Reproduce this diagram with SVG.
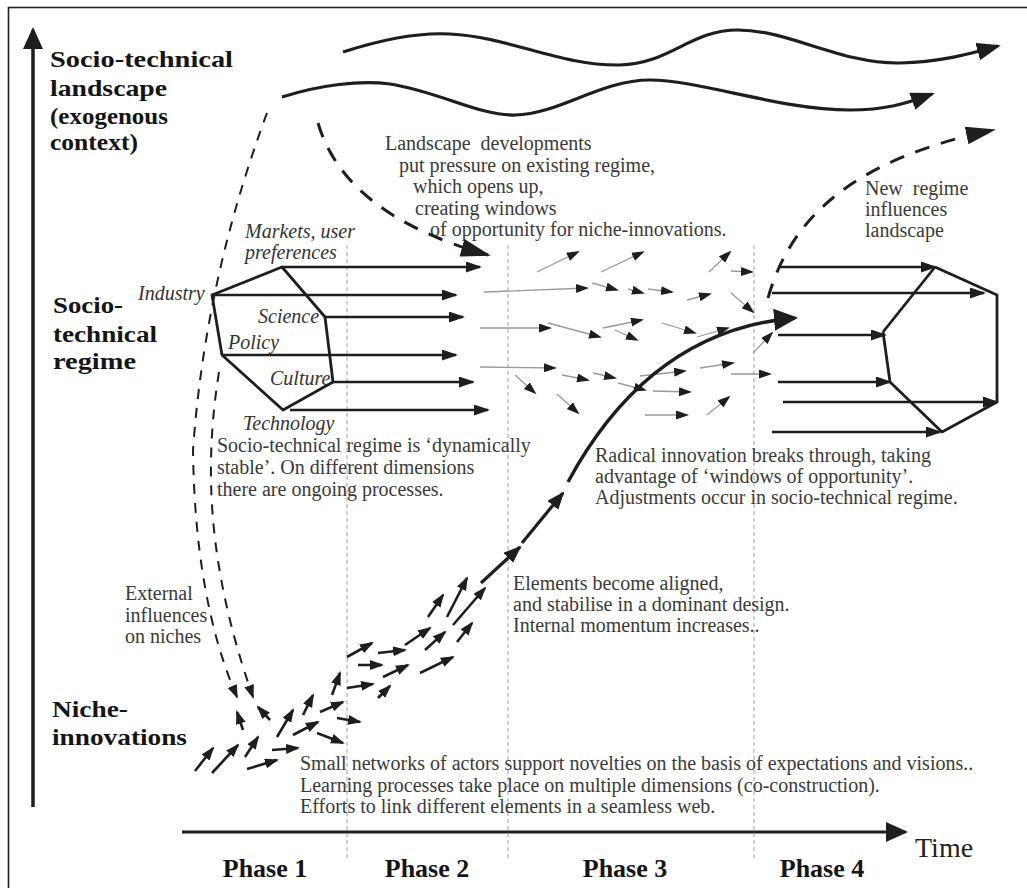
<svg xmlns="http://www.w3.org/2000/svg" width="1027" height="888" viewBox="0 0 1027 888">
<defs>
<style>
.h{font-family:"Liberation Serif","Times New Roman",serif;font-weight:bold;font-size:24px;fill:#151515}
.hs{font-size:23px}
.ph{font-family:"Liberation Serif","Times New Roman",serif;font-weight:bold;font-size:26px;fill:#151515;text-anchor:middle}
.t{font-family:"Liberation Serif","Times New Roman",serif;font-size:20px;fill:#3a3a3a}
.it{font-family:"Liberation Serif","Times New Roman",serif;font-style:italic;font-size:20px;fill:#333}
.time{font-family:"Liberation Serif","Times New Roman",serif;font-size:28px;fill:#222}
.div{stroke:#a0a0a0;stroke-width:1;stroke-dasharray:4 3;fill:none}
.grey{stroke:#9a9a9a;stroke-width:1.3;fill:none;marker-end:url(#mS)}
.nich{stroke:#1e1e1e;stroke-width:2.6;fill:none;marker-end:url(#mN)}
.reg{stroke:#1e1e1e;stroke-width:2.6;fill:none;marker-end:url(#mR)}
.poly{stroke:#1e1e1e;stroke-width:2.8;fill:none;stroke-linejoin:round}
.wave{stroke:#1e1e1e;stroke-width:3.2;fill:none;marker-end:url(#mW)}
.dashA{stroke:#1e1e1e;stroke-width:2;fill:none;stroke-dasharray:10 9;marker-end:url(#mN)}
.dashB{stroke:#1e1e1e;stroke-width:3;fill:none;stroke-dasharray:15 12;marker-end:url(#mD)}
</style>
<marker id="mS" markerUnits="userSpaceOnUse" markerWidth="13" markerHeight="10" refX="11" refY="4.5" orient="auto"><path d="M0,0 L13,4.5 L0,9 z" fill="#1e1e1e"/></marker>
<marker id="mN" markerUnits="userSpaceOnUse" markerWidth="14" markerHeight="11" refX="12" refY="5" orient="auto"><path d="M0,0 L14,5 L0,10 z" fill="#1e1e1e"/></marker>
<marker id="mR" markerUnits="userSpaceOnUse" markerWidth="16" markerHeight="12" refX="14" refY="5.5" orient="auto"><path d="M0,0 L16,5.5 L0,11 z" fill="#1e1e1e"/></marker>
<marker id="mW" markerUnits="userSpaceOnUse" markerWidth="24" markerHeight="19" refX="21" refY="9" orient="auto"><path d="M0,0 L24,9 L0,18 z" fill="#1e1e1e"/></marker>
<marker id="mD" markerUnits="userSpaceOnUse" markerWidth="30" markerHeight="19" refX="27" refY="9" orient="auto"><path d="M0,0 L30,9 L0,18 z" fill="#1e1e1e"/></marker>
<marker id="mT" markerUnits="userSpaceOnUse" markerWidth="24" markerHeight="23" refX="21" refY="11" orient="auto"><path d="M0,0 L24,11 L0,22 z" fill="#1e1e1e"/></marker>
<marker id="mG" markerUnits="userSpaceOnUse" markerWidth="18" markerHeight="15" refX="16" refY="7" orient="auto"><path d="M0,0 L18,7 L0,14 z" fill="#1e1e1e"/></marker>
<marker id="mA" markerUnits="userSpaceOnUse" markerWidth="22" markerHeight="21" refX="19" refY="10" orient="auto"><path d="M0,0 L22,10 L0,20 z" fill="#1e1e1e"/></marker>
</defs>
<rect width="1027" height="888" fill="#fff"/>
<g id="frame"><rect x="8.5" y="7.5" width="1040" height="900" fill="none" stroke="#222" stroke-width="1.6"/></g>

<g id="axes">
<path d="M33,807 L33,30" stroke="#1e1e1e" stroke-width="3.5" fill="none" marker-end="url(#mA)"/>
<path d="M182,832 L905,832" stroke="#1e1e1e" stroke-width="3" fill="none" marker-end="url(#mA)"/>
<text class="time" x="915" y="857">Time</text>
</g>

<g id="phases">
<path class="div" d="M347,245 V858 M508,245 V858 M754,245 V858"/>
<text class="ph" x="265" y="877">Phase 1</text>
<text class="ph" x="427" y="877">Phase 2</text>
<text class="ph" x="625" y="877">Phase 3</text>
<text class="ph" x="822" y="877">Phase 4</text>
</g>

<g id="landscape">
<text class="h" x="50" y="67" textLength="183" lengthAdjust="spacingAndGlyphs">Socio-technical</text>
<text class="h" x="50" y="96" textLength="117" lengthAdjust="spacingAndGlyphs">landscape</text>
<text class="h hs" x="50" y="124" textLength="118" lengthAdjust="spacingAndGlyphs">(exogenous</text>
<text class="h hs" x="50" y="150" textLength="88" lengthAdjust="spacingAndGlyphs">context)</text>
</g>

<g id="regime">
<text class="h" x="53" y="313" textLength="70" lengthAdjust="spacingAndGlyphs">Socio-</text>
<text class="h" x="53" y="342" textLength="104" lengthAdjust="spacingAndGlyphs">technical</text>
<text class="h" x="53" y="369" textLength="83" lengthAdjust="spacingAndGlyphs">regime</text>
<polygon class="poly" points="282,267 325,317 333,382 283,410 222,355 212,295"/>
<text class="it" x="245" y="238">Markets, user</text>
<text class="it" x="245" y="259">preferences</text>
<text class="it" x="138" y="300">Industry</text>
<text class="it" x="258" y="323">Science</text>
<text class="it" x="228" y="349">Policy</text>
<text class="it" x="270" y="385">Culture</text>
<text class="it" x="243" y="430">Technology</text>
</g>

<g id="new-regime">
<path class="poly" d="M883,332 L935,267" stroke-width="2"/>
<path class="poly" d="M935,267 L997,295 L997,402 L942,432 L890,382 L883,332"/>
</g>

<g id="niche">
<text class="h" x="52" y="717" textLength="76" lengthAdjust="spacingAndGlyphs">Niche-</text>
<text class="h" x="52" y="745" textLength="135" lengthAdjust="spacingAndGlyphs">innovations</text>
</g>

<g id="annotations">
<text class="t" x="385" y="150">Landscape&#160; developments</text>
<text class="t" x="399" y="172">put pressure on existing regime,</text>
<text class="t" x="413" y="193">which opens up,</text>
<text class="t" x="415" y="215">creating windows</text>
<text class="t" x="430" y="236">of opportunity for niche-innovations.</text>
<text class="t" x="865" y="195">New&#160; regime</text>
<text class="t" x="865" y="216">influences</text>
<text class="t" x="865" y="237">landscape</text>
<text class="t" x="217" y="452">Socio-technical regime is ‘dynamically</text>
<text class="t" x="217" y="474">stable’. On different dimensions</text>
<text class="t" x="217" y="496">there are ongoing processes.</text>
<text class="t" x="595" y="462">Radical innovation breaks through, taking</text>
<text class="t" x="595" y="483">advantage of ‘windows of opportunity’.</text>
<text class="t" x="595" y="504">Adjustments occur in socio-technical regime.</text>
<text class="t" x="513" y="590">Elements become aligned,</text>
<text class="t" x="513" y="611">and stabilise in a dominant design.</text>
<text class="t" x="513" y="632">Internal momentum increases..</text>
<text class="t" x="125" y="600">External</text>
<text class="t" x="125" y="622">influences</text>
<text class="t" x="125" y="643">on niches</text>
<text class="t" x="300" y="770">Small networks of actors support novelties on the basis of expectations and visions..</text>
<text class="t" x="300" y="792">Learning processes take place on multiple dimensions (co-construction).</text>
<text class="t" x="300" y="813">Efforts to link different elements in a seamless web.</text>
</g>

<g id="connectors">
<path class="wave" d="M343,52 C380,40 415,32 450,34 C510,37 560,66 620,65 C670,64 690,30 738,30 C790,30 840,64 900,63 C940,62 965,55 998,46"/>
<path class="wave" d="M282,97 C320,85 360,80 390,84 C440,92 480,116 515,115 C560,114 600,80 650,80 C700,80 780,110 850,110 C885,110 905,104 932,94"/>
<path class="dashB" d="M318,123 Q345,215 488,255"/>
<path class="dashB" d="M768,298 C790,220 850,160 993,130"/>
<path class="dashA" d="M267,113 Q205,280 193,450 Q195,600 237,697"/>
<path class="dashA" d="M219,372 C205,460 205,560 253,697"/>

<path class="reg" d="M282,267 H480"/>
<path class="reg" d="M212,295 H456"/>
<path class="reg" d="M325,317 H463"/>
<path class="reg" d="M222,355 H456"/>
<path class="reg" d="M333,382 H473"/>
<path class="reg" d="M290,410 H488"/>

<path class="reg" d="M780,267 H935"/>
<path class="reg" d="M772,293 H984"/>
<path class="reg" d="M778,335 H885"/>
<path class="reg" d="M778,382 H890"/>
<path class="reg" d="M783,402 H997"/>
<path class="reg" d="M772,432 H940"/>

<path class="grey" d="M537,272 L578,252"/>
<path class="grey" d="M601,272 L643,252"/>
<path class="grey" d="M709,272 L730,252"/>
<path class="grey" d="M731,271 L752,272"/>
<path class="grey" d="M484,292 L587,288"/>
<path class="grey" d="M592,283 L617,290"/>
<path class="grey" d="M628,289 L643,293"/>
<path class="grey" d="M648,289 L672,292"/>
<path class="grey" d="M687,300 L710,294"/>
<path class="grey" d="M731,293 L753,312"/>
<path class="grey" d="M480,328 L550,328"/>
<path class="grey" d="M548,323 L600,337"/>
<path class="grey" d="M603,328 L642,320"/>
<path class="grey" d="M615,330 L637,340"/>
<path class="grey" d="M662,323 L695,333"/>
<path class="grey" d="M480,367 L555,368"/>
<path class="grey" d="M515,375 L535,393"/>
<path class="grey" d="M562,375 L588,380"/>
<path class="grey" d="M593,373 L615,378"/>
<path class="grey" d="M618,383 L645,390"/>
<path class="grey" d="M640,376 L685,371"/>
<path class="grey" d="M700,368 L733,363"/>
<path class="grey" d="M653,391 L690,392"/>
<path class="grey" d="M557,394 L578,413"/>
<path class="grey" d="M645,415 L687,415"/>
<path class="grey" d="M707,415 L729,397"/>
<path class="grey" d="M731,374 L770,374"/>
<path class="grey" d="M753,353 L772,333"/>
<path class="grey" d="M697,337 L728,328"/>

<path class="nich" d="M195,771 L213,748"/>
<path class="nich" d="M212,773 L238,745"/>
<path class="nich" d="M245,757 L258,737"/>
<path class="nich" d="M247,769 L277,760"/>
<path class="nich" d="M272,750 L298,748"/>
<path class="nich" d="M277,737 L293,710"/>
<path class="nich" d="M293,735 L318,722"/>
<path class="nich" d="M317,733 L343,743"/>
<path class="nich" d="M303,715 L313,695"/>
<path class="nich" d="M320,712 L343,702"/>
<path class="nich" d="M332,695 L340,673"/>
<path class="nich" d="M337,718 L360,722"/>
<path class="nich" d="M347,688 L373,684"/>
<path class="nich" d="M378,698 L390,686"/>
<path class="nich" d="M347,657 L372,643"/>
<path class="nich" d="M358,665 L382,665"/>
<path class="nich" d="M378,653 L405,650"/>
<path class="nich" d="M383,677 L408,665"/>
<path class="nich" d="M405,645 L430,628"/>
<path class="nich" d="M425,650 L445,632"/>
<path class="nich" d="M420,673 L453,657"/>
<path class="nich" d="M457,642 L472,623"/>
<path class="nich" d="M428,617 L443,595"/>
<path class="nich" d="M447,617 L467,578"/>
<path class="nich" d="M453,625 L485,588"/>
<path class="nich" d="M243,730 L237,712"/>
<path class="nich" d="M270,720 L258,707"/>

<path d="M481,583 L520,547" stroke="#1e1e1e" stroke-width="3.2" fill="none" marker-end="url(#mG)"/>
<path d="M522,543 L563,493" stroke="#1e1e1e" stroke-width="3.2" fill="none" marker-end="url(#mG)"/>
<path d="M568,482 Q650,330 795,318" stroke="#1e1e1e" stroke-width="3.4" fill="none" marker-end="url(#mT)"/>
</g>
</svg>
